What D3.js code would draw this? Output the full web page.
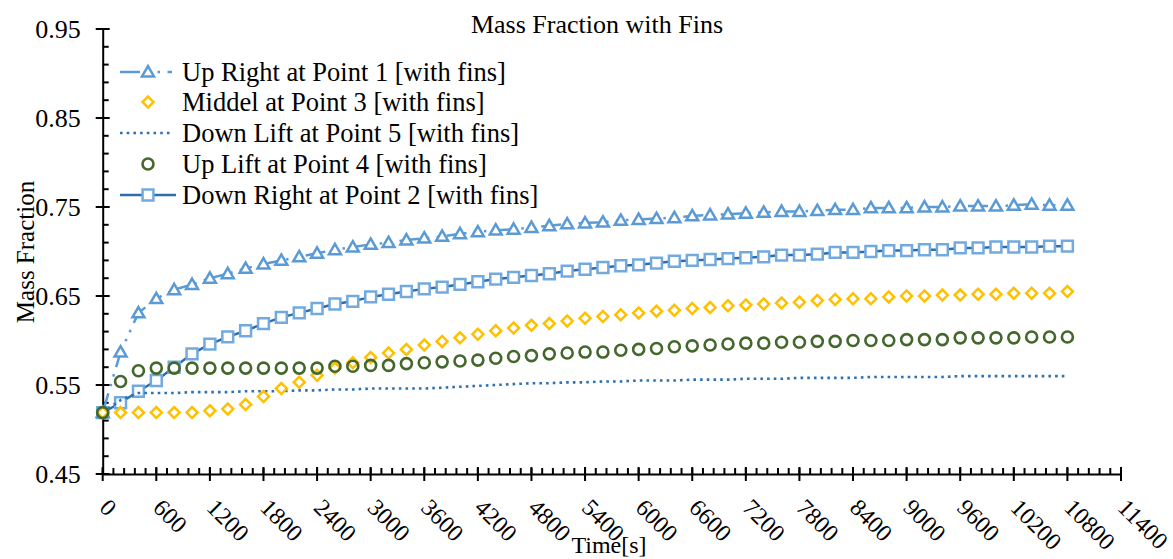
<!DOCTYPE html>
<html><head><meta charset="utf-8">
<script src="https://cdn.jsdelivr.net/npm/d3@7"></script>
<style>
html,body{margin:0;padding:0;background:#fff;}
svg text{font-family:"Liberation Serif","Times New Roman",serif;fill:#000;}
</style></head>
<body><svg id="chart" width="1173" height="559"></svg>
<script>
const times = [0,200,400,600,800,1000,1200,1400,1600,1800,2000,2200,2400,2600,2800,3000,3200,3400,3600,3800,4000,4200,4400,4600,4800,5000,5200,5400,5600,5800,6000,6200,6400,6600,6800,7000,7200,7400,7600,7800,8000,8200,8400,8600,8800,9000,9200,9400,9600,9800,10000,10200,10400,10600,10800];
const upRight = [0.519,0.587,0.631,0.647,0.657,0.663,0.670,0.675,0.681,0.686,0.690,0.694,0.698,0.702,0.705,0.708,0.710,0.713,0.715,0.717,0.720,0.722,0.724,0.725,0.727,0.729,0.731,0.732,0.733,0.735,0.736,0.737,0.738,0.740,0.741,0.742,0.743,0.744,0.745,0.745,0.746,0.747,0.747,0.749,0.749,0.749,0.750,0.750,0.751,0.751,0.751,0.752,0.753,0.752,0.752];
const middel = [0.519,0.519,0.519,0.519,0.519,0.519,0.521,0.523,0.528,0.537,0.546,0.553,0.561,0.569,0.575,0.581,0.586,0.590,0.595,0.599,0.603,0.607,0.611,0.614,0.617,0.619,0.622,0.625,0.627,0.629,0.631,0.633,0.634,0.636,0.637,0.639,0.640,0.641,0.642,0.643,0.645,0.646,0.647,0.647,0.649,0.650,0.650,0.651,0.651,0.652,0.652,0.653,0.653,0.653,0.655];
const downLift = [0.519,0.533,0.541,0.541,0.541,0.542,0.542,0.542,0.543,0.543,0.543,0.544,0.544,0.545,0.545,0.546,0.546,0.546,0.546,0.547,0.548,0.549,0.550,0.551,0.552,0.552,0.553,0.553,0.554,0.554,0.555,0.555,0.555,0.556,0.556,0.556,0.557,0.557,0.557,0.558,0.558,0.558,0.558,0.559,0.559,0.559,0.559,0.559,0.560,0.560,0.560,0.560,0.560,0.560,0.560];
const upLift = [0.519,0.554,0.566,0.569,0.569,0.569,0.569,0.569,0.569,0.569,0.569,0.569,0.569,0.571,0.571,0.572,0.572,0.574,0.575,0.576,0.577,0.578,0.580,0.582,0.583,0.585,0.586,0.587,0.587,0.589,0.590,0.591,0.593,0.594,0.595,0.596,0.597,0.597,0.598,0.598,0.599,0.599,0.600,0.600,0.600,0.601,0.601,0.601,0.603,0.603,0.603,0.603,0.604,0.604,0.604];
const downRight = [0.519,0.530,0.543,0.555,0.570,0.585,0.596,0.604,0.611,0.619,0.626,0.631,0.636,0.641,0.644,0.649,0.652,0.655,0.658,0.660,0.663,0.666,0.669,0.671,0.673,0.675,0.678,0.680,0.682,0.684,0.685,0.687,0.689,0.690,0.691,0.692,0.693,0.694,0.696,0.696,0.697,0.699,0.699,0.700,0.701,0.701,0.702,0.702,0.704,0.704,0.705,0.705,0.705,0.706,0.706];
const xTicks = [0,600,1200,1800,2400,3000,3600,4200,4800,5400,6000,6600,7200,7800,8400,9000,9600,10200,10800,11400];
const yTicks = [0.45,0.55,0.65,0.75,0.85,0.95];
const seriesNames = ["Up Right at Point 1 [with fins]","Middel at Point 3 [with fins]","Down Lift at Point 5 [with fins]","Up Lift at Point 4 [with fins]","Down Right at Point 2 [with fins]"];
const titleText = "Mass Fraction with Fins";
const xTitle = "Time[s]";
const yTitle = "Mass Fraction";

const svg = d3.select("#chart");
const x = d3.scaleLinear().domain([0,11400]).range([102.7,1121]);
const y = d3.scaleLinear().domain([0.45,0.95]).range([474,29]);

const cTri = "#5B9BD5", cSq = "#72AADF", cLine = "#2E6DAA", cDot = "#2E72B2", cDia = "#FFC000", cCir = "#44672C";
const serif = "'Liberation Serif','Times New Roman',serif";

// axes
const yMinor = d3.range(0.45,0.9501,0.02).map(v=>+v.toFixed(2));
const xMinor = d3.range(0,11401,120);
const ax = svg.append("g");
ax.selectAll("line.ym").data(yMinor).join("line")
  .attr("x1",x(0)).attr("x2",x(0)+6).attr("y1",d=>y(d)).attr("y2",d=>y(d))
  .attr("stroke","#000").attr("stroke-width",2);
ax.selectAll("line.xm").data(xMinor).join("line")
  .attr("x1",d=>x(d)).attr("x2",d=>x(d)).attr("y1",y(0.45)).attr("y2",y(0.45)-6)
  .attr("stroke","#000").attr("stroke-width",2);
const yAxis = d3.axisLeft(y).tickValues(yTicks).tickSize(0).tickFormat(d3.format(".2f"));
const gy = svg.append("g").attr("transform",`translate(${x(0)},0)`).call(yAxis).attr("font-family",serif);
gy.select(".domain").attr("stroke","#000").attr("stroke-width",2);
gy.selectAll(".tick line").remove();
gy.selectAll(".tick text").attr("x",-22).attr("dy","0.33em").style("font-size","26px").style("font-family",serif);
ax.selectAll("line.yM").data(yTicks).join("line")
  .attr("x1",x(0)-7).attr("x2",x(0)+7).attr("y1",d=>y(d)).attr("y2",d=>y(d))
  .attr("stroke","#000").attr("stroke-width",2);
const xAxis = d3.axisBottom(x).tickValues(xTicks).tickSize(0).tickFormat(d3.format("d"));
const gx = svg.append("g").attr("transform",`translate(0,${y(0.45)})`).call(xAxis).attr("font-family",serif);
gx.select(".domain").attr("stroke","#000").attr("stroke-width",2);
gx.selectAll(".tick text").attr("y",0).attr("dy",0)
  .attr("text-anchor","start")
  .attr("transform","translate(-5,35) rotate(45)")
  .style("font-size","24px").style("font-family",serif);
ax.selectAll("line.xM").data(xTicks).join("line")
  .attr("x1",d=>x(d)).attr("x2",d=>x(d)).attr("y1",y(0.45)-7).attr("y2",y(0.45)+7)
  .attr("stroke","#000").attr("stroke-width",2);

// titles
svg.append("text").attr("x",597).attr("y",33).attr("text-anchor","middle").style("font-size","26px").text(titleText);
svg.append("text").attr("x",609).attr("y",553).attr("text-anchor","middle").style("font-size","24px").text(xTitle);
svg.append("text").attr("transform","translate(34,252) rotate(-90)").attr("text-anchor","middle").style("font-size","25px").text(yTitle);

const pts = arr => times.map((t,i)=>({t, v:arr[i]}));
const line = d3.line().x(d=>x(d.t)).y(d=>y(d.v));
const plot = svg.append("g");

const triPath = d3.symbol().type(d3.symbolTriangle).size(62)();
const sqPath = d3.symbol().type(d3.symbolSquare).size(118)();
const diaPath = d3.symbol().type(d3.symbolSquare).size(60)();
const cirPath = d3.symbol().type(d3.symbolCircle).size(95)();

// Down Right line + squares
plot.append("path").datum(pts(downRight)).attr("d",line).attr("fill","none").attr("stroke",cLine).attr("stroke-width",2.5);
plot.selectAll("path.sq").data(pts(downRight)).join("path").attr("class","sq")
  .attr("d",sqPath).attr("transform",d=>`translate(${x(d.t)},${y(d.v)})`)
  .attr("fill","#fff").attr("stroke",cSq).attr("stroke-width",2.5);
// Up Right
plot.append("path").datum(pts(upRight)).attr("d",line).attr("fill","none").attr("stroke",cTri).attr("stroke-width",2.5)
  .attr("stroke-dasharray","20 7.5 2.5 7.5 2.5 7.5");
plot.selectAll("path.tri").data(pts(upRight)).join("path").attr("class","tri")
  .attr("d",triPath).attr("transform",d=>`translate(${x(d.t)},${y(d.v)+1})`)
  .attr("fill","#fff").attr("stroke",cTri).attr("stroke-width",2.5);
// Down Lift dotted
plot.append("path").datum(pts(downLift)).attr("d",line).attr("fill","none").attr("stroke",cDot).attr("stroke-width",2.6)
  .attr("stroke-dasharray","2.6 4.1");
// Middel diamonds
plot.selectAll("path.dia").data(pts(middel)).join("path").attr("class","dia")
  .attr("d",diaPath).attr("transform",d=>`translate(${x(d.t)},${y(d.v)}) rotate(45)`)
  .attr("fill","#fff").attr("stroke",cDia).attr("stroke-width",2.5);
// Up Lift circles
plot.selectAll("path.cir").data(pts(upLift)).join("path").attr("class","cir")
  .attr("d",cirPath).attr("transform",d=>`translate(${x(d.t)},${y(d.v)})`)
  .attr("fill","none").attr("stroke",cCir).attr("stroke-width",2.6);

// legend
const rows = [72,102,133,164,195];
const lg = svg.append("g");
const lx1 = 120, lx2 = 172, mx = 148;
lg.append("line").attr("x1",lx1).attr("x2",lx2).attr("y1",rows[0]).attr("y2",rows[0]).attr("stroke",cTri).attr("stroke-width",2.5).attr("stroke-dasharray","20 7.5 2.5 7.5 2.5 7.5");
lg.append("path").attr("d",triPath).attr("transform",`translate(${mx},${rows[0]+1})`).attr("fill","#fff").attr("stroke",cTri).attr("stroke-width",2.5);
lg.append("path").attr("d",diaPath).attr("transform",`translate(${mx},${rows[1]}) rotate(45)`).attr("fill","#fff").attr("stroke",cDia).attr("stroke-width",2.5);
lg.append("line").attr("x1",lx1).attr("x2",lx2).attr("y1",rows[2]).attr("y2",rows[2]).attr("stroke",cDot).attr("stroke-width",2.6).attr("stroke-dasharray","2.6 4.1");
lg.append("path").attr("d",cirPath).attr("transform",`translate(${mx},${rows[3]})`).attr("fill","none").attr("stroke",cCir).attr("stroke-width",2.6);
lg.append("line").attr("x1",lx1).attr("x2",lx2+4).attr("y1",rows[4]).attr("y2",rows[4]).attr("stroke",cLine).attr("stroke-width",2.5);
lg.append("path").attr("d",sqPath).attr("transform",`translate(${mx},${rows[4]})`).attr("fill","#fff").attr("stroke",cSq).attr("stroke-width",2.5);
lg.selectAll("text.lt").data(seriesNames).join("text").attr("class","lt")
  .attr("x",182).attr("y",(d,i)=>rows[i]).attr("dy","0.33em").style("font-size","26.5px").text(d=>d);
</script></body></html>
